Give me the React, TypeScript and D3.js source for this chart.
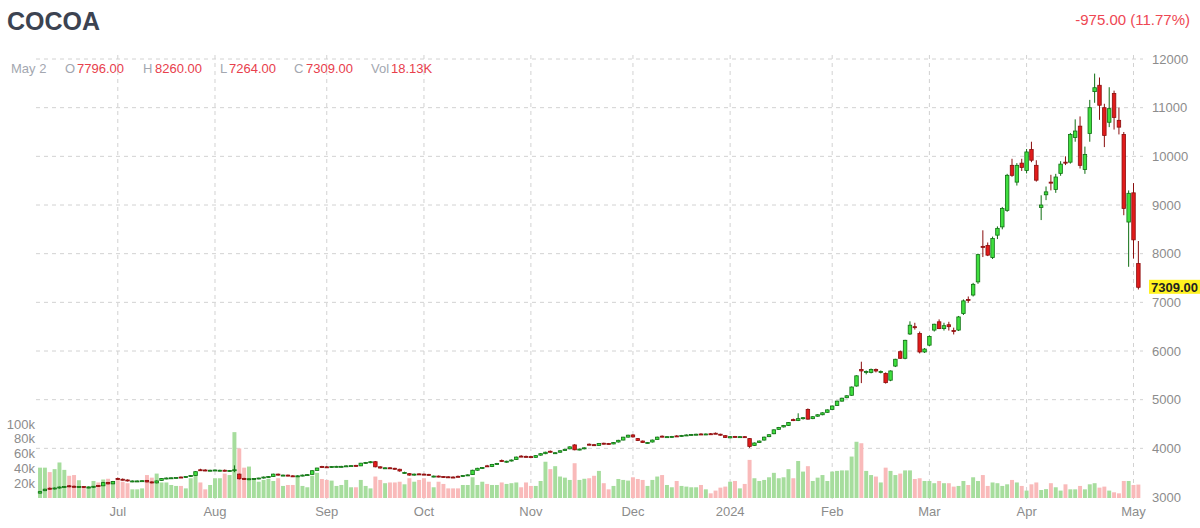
import { useEffect, useRef } from "react";
import * as d3 from "d3";

// open, high, low, close — one entry per trading day, mid-June 2023 to May 2 2024
type Candle = [number, number, number, number];

const candles: Candle[] = [
  // Jun
  [3080, 3125, 3070, 3110], [3130, 3170, 3120, 3160], [3180, 3195, 3150, 3165], [3165, 3195, 3155, 3185],
  [3185, 3215, 3175, 3205], [3200, 3225, 3190, 3215], [3230, 3245, 3200, 3215], [3220, 3235, 3195, 3205],
  [3200, 3225, 3190, 3215], [3215, 3225, 3190, 3200], [3195, 3215, 3180, 3205], [3200, 3225, 3190, 3220],
  [3235, 3245, 3210, 3220], [3230, 3310, 3225, 3295], [3300, 3310, 3260, 3270], [3270, 3330, 3265, 3320],
  // Jul
  [3380, 3400, 3350, 3360], [3365, 3380, 3340, 3350], [3350, 3360, 3320, 3330], [3320, 3340, 3305, 3330],
  [3320, 3340, 3310, 3330], [3320, 3345, 3310, 3335], [3340, 3350, 3300, 3310], [3310, 3320, 3280, 3290],
  [3290, 3340, 3280, 3330], [3340, 3390, 3335, 3380], [3375, 3400, 3365, 3390], [3385, 3400, 3370, 3395],
  [3390, 3410, 3380, 3400], [3410, 3420, 3390, 3400], [3400, 3430, 3395, 3420], [3420, 3450, 3410, 3440],
  [3440, 3530, 3435, 3520], [3560, 3580, 3540, 3550], [3555, 3570, 3530, 3545], [3540, 3560, 3530, 3550],
  // Aug
  [3545, 3565, 3535, 3555], [3545, 3560, 3530, 3550], [3550, 3565, 3525, 3540], [3535, 3555, 3520, 3545],
  [3540, 3650, 3510, 3560], [3470, 3480, 3360, 3375], [3380, 3395, 3350, 3370], [3360, 3385, 3345, 3375],
  [3370, 3390, 3355, 3380], [3375, 3395, 3365, 3390], [3390, 3420, 3380, 3410], [3410, 3430, 3400, 3420],
  [3420, 3480, 3415, 3470], [3470, 3480, 3440, 3450], [3440, 3460, 3430, 3450], [3450, 3460, 3425, 3435],
  [3435, 3445, 3410, 3420], [3420, 3445, 3410, 3435], [3435, 3460, 3425, 3450], [3450, 3470, 3440, 3460],
  [3465, 3550, 3460, 3540], [3545, 3600, 3540, 3595], [3625, 3640, 3600, 3615],
  // Sep
  [3620, 3635, 3600, 3610], [3610, 3635, 3600, 3625], [3620, 3640, 3610, 3630], [3625, 3640, 3610, 3630],
  [3630, 3650, 3620, 3640], [3635, 3650, 3625, 3645], [3650, 3660, 3625, 3635], [3640, 3700, 3635, 3695],
  [3695, 3720, 3685, 3710], [3705, 3735, 3695, 3725], [3725, 3740, 3610, 3620], [3620, 3630, 3585, 3595],
  [3590, 3610, 3575, 3600], [3600, 3610, 3580, 3590], [3590, 3600, 3560, 3570], [3570, 3580, 3520, 3535],
  [3500, 3520, 3480, 3505], [3480, 3490, 3440, 3450], [3450, 3480, 3440, 3470], [3475, 3485, 3455, 3465],
  // Oct
  [3470, 3480, 3450, 3460], [3465, 3475, 3440, 3450], [3420, 3440, 3405, 3430], [3430, 3440, 3405, 3415],
  [3420, 3430, 3400, 3410], [3415, 3425, 3395, 3405], [3410, 3425, 3395, 3405], [3425, 3440, 3410, 3420],
  [3420, 3450, 3410, 3440], [3440, 3465, 3430, 3455], [3460, 3560, 3455, 3550], [3550, 3600, 3540, 3590],
  [3590, 3615, 3575, 3605], [3640, 3660, 3620, 3630], [3625, 3680, 3615, 3670], [3670, 3700, 3660, 3690],
  [3750, 3770, 3720, 3735], [3720, 3745, 3705, 3735], [3740, 3770, 3730, 3760], [3770, 3830, 3760, 3820],
  [3840, 3860, 3820, 3830], [3835, 3850, 3815, 3825],
  // Nov
  [3830, 3840, 3805, 3815], [3815, 3860, 3810, 3850], [3860, 3900, 3850, 3890], [3890, 3930, 3880, 3920],
  [3940, 3955, 3910, 3925], [3900, 3920, 3885, 3910], [3920, 3960, 3910, 3950], [3955, 3990, 3945, 3980],
  [3990, 4040, 3980, 4030], [4070, 4085, 3960, 3970], [3970, 3995, 3960, 3985], [3990, 4020, 3980, 4010],
  [4085, 4100, 4060, 4070], [4075, 4090, 4050, 4065], [4060, 4110, 4055, 4100], [4105, 4115, 4080, 4090],
  [4100, 4110, 4080, 4090], [4090, 4130, 4085, 4120], [4130, 4175, 4120, 4165], [4170, 4235, 4165, 4230],
  [4230, 4280, 4220, 4270],
  // Dec
  [4275, 4290, 4220, 4235], [4200, 4210, 4150, 4160], [4150, 4160, 4110, 4120], [4110, 4130, 4100, 4120],
  [4130, 4180, 4120, 4170], [4180, 4240, 4175, 4230], [4250, 4265, 4225, 4235], [4230, 4250, 4220, 4240],
  [4235, 4255, 4225, 4245], [4255, 4270, 4235, 4245], [4245, 4275, 4240, 4265], [4265, 4285, 4255, 4275],
  [4275, 4295, 4265, 4285], [4280, 4300, 4270, 4290], [4295, 4310, 4275, 4285], [4285, 4305, 4275, 4295],
  [4300, 4315, 4285, 4295], [4310, 4325, 4295, 4300], [4290, 4300, 4260, 4270], [4260, 4270, 4215, 4225],
  // Jan
  [4215, 4250, 4205, 4240], [4245, 4255, 4225, 4235], [4230, 4250, 4220, 4240], [4240, 4250, 4215, 4225],
  [4200, 4210, 4010, 4040], [4060, 4120, 4050, 4110], [4120, 4160, 4110, 4150], [4170, 4240, 4160, 4230],
  [4240, 4290, 4230, 4280], [4300, 4390, 4290, 4380], [4390, 4440, 4380, 4430], [4440, 4480, 4430, 4470],
  [4470, 4540, 4460, 4530], [4590, 4610, 4560, 4570], [4570, 4720, 4560, 4610], [4610, 4640, 4590, 4630],
  [4800, 4820, 4590, 4600], [4610, 4660, 4600, 4650], [4660, 4700, 4650, 4690], [4690, 4740, 4680, 4730],
  [4740, 4800, 4730, 4790],
  // Feb
  [4800, 4880, 4790, 4870], [4880, 4980, 4870, 4970], [4970, 5040, 4960, 5030], [5040, 5090, 5030, 5080],
  [5090, 5270, 5080, 5260], [5280, 5500, 5270, 5490], [5620, 5780, 5340, 5590], [5560, 5600, 5520, 5580],
  [5560, 5640, 5540, 5620], [5620, 5640, 5560, 5590], [5570, 5600, 5540, 5580], [5540, 5560, 5330, 5350],
  [5400, 5600, 5380, 5590], [5690, 5840, 5670, 5830], [5985, 6010, 5840, 5850], [5850, 6230, 5830, 6220],
  [6350, 6610, 6330, 6530], [6500, 6580, 6440, 6480], [6360, 6400, 5950, 5980], [5980, 6060, 5960, 6040],
  // Mar
  [6120, 6320, 6100, 6300], [6430, 6560, 6400, 6550], [6600, 6650, 6450, 6460], [6460, 6580, 6420, 6520],
  [6540, 6600, 6420, 6500], [6420, 6480, 6340, 6410], [6430, 6720, 6410, 6700], [6770, 7060, 6740, 7030],
  [7060, 7120, 6990, 7040], [7150, 7400, 7120, 7370], [7420, 8000, 7380, 7980], [8150, 8480, 7930, 8130],
  [8170, 8230, 7950, 7970], [7920, 8350, 7890, 8310], [8380, 8560, 8300, 8520], [8550, 8960, 8500, 8930],
  [8890, 9640, 8860, 9610], [9815, 9950, 9580, 9610], [9470, 9860, 9400, 9815], [9860, 9950, 9700, 9770],
  // Apr
  [9710, 10150, 9650, 10090], [10140, 10300, 9880, 9920], [9815, 9920, 9480, 9510], [8950, 9200, 8690, 9000],
  [9210, 9380, 9100, 9270], [9470, 9620, 9300, 9450], [9320, 9640, 9250, 9575], [9650, 9900, 9600, 9840],
  [9880, 10000, 9820, 9860], [9880, 10480, 9850, 10450], [10385, 10760, 10300, 10520], [10620, 10820, 9750, 9815],
  [9730, 10200, 9640, 10040], [10470, 11160, 10300, 11000], [11330, 11700, 11100, 11410], [11460, 11620, 10750, 11050],
  [11000, 11080, 10190, 10430], [10700, 11420, 10600, 10980], [11290, 11350, 10550, 10800], [10740, 11000, 10450, 10600],
  [10450, 10500, 8790, 8930], [8650, 9300, 7730, 9240],
  // May
  [9250, 9450, 7900, 8284], [7796, 8260, 7264, 7309],
];

// daily volume, thousands of contracts
const volumes: number[] = [
  41, 41, 35, 39, 48, 38, 30, 31, 24, 14.5, 16, 23, 21, 25, 26, 22,
  27, 22, 20, 11.7, 11.7, 13, 31, 27.5, 33, 21, 21, 17.6, 16.3, 16.3, 13, 26.7, 35.7, 21, 11.7, 17.6,
  26.7, 26.7, 33, 31, 89, 67, 41, 42.5, 26.7, 22, 24.4, 26, 23, 26.7, 16.3, 17.6, 17.6, 30, 16.3, 14.5, 30, 34, 25.7,
  24.4, 23.5, 16.3, 17.6, 24.4, 14.5, 14.5, 24.4, 16.3, 13, 29, 24.4, 20, 21, 21, 22, 18.5, 26.7, 22, 24.4,
  26.7, 22, 14.5, 22, 19, 13, 13, 13, 17.6, 17.6, 28, 17.6, 22, 19, 17.6, 17.6, 21, 19, 20, 21, 14.5, 21,
  16.3, 16.3, 23, 49, 39, 43, 29, 27.5, 24.4, 47, 24.4, 26, 26.7, 30, 36.6, 20, 11.7, 16.3, 25.7, 24.4, 23.5,
  28, 25.7, 24.4, 16.3, 24.4, 29, 31, 17.6, 14.5, 23, 16.3, 15.4, 14.5, 14.5, 17.6, 11.7, 6.3, 10, 14, 15.4,
  22, 23, 13, 19, 51.5, 26.7, 23, 24.4, 28, 34, 26.7, 28, 39, 26.7, 50, 35.7, 43, 23, 27.5, 31, 23,
  35.7, 36.6, 37.3, 37.3, 56, 76, 74, 36.6, 31, 29, 21, 41, 36.6, 31, 33, 37.3, 37.3, 25.7, 26.7, 23,
  23, 20, 23, 20, 20, 15.4, 16.3, 23, 17.6, 28, 23, 31, 16.3, 21, 20, 16.3, 18.5, 24.4, 21, 16.3,
  10, 18.5, 21, 10.8, 12, 20, 14.5, 10, 18.5, 11.7, 11.7, 16.3, 11.7, 18.5, 20, 14, 15.4, 10, 7.7, 6.3, 23, 23,
  17.6, 18.13,
];

const monthTicks = [
  { label: "Jul", index: 16 },
  { label: "Aug", index: 36 },
  { label: "Sep", index: 59 },
  { label: "Oct", index: 79 },
  { label: "Nov", index: 101 },
  { label: "Dec", index: 122 },
  { label: "2024", index: 142 },
  { label: "Feb", index: 163 },
  { label: "Mar", index: 183 },
  { label: "Apr", index: 203 },
  { label: "May", index: 225 },
];

const priceTicks = [3000, 4000, 5000, 6000, 7000, 8000, 9000, 10000, 11000, 12000];
const priceGrid = [4000, 5000, 6000, 7000, 8000, 9000, 10000, 11000, 12000];
const volumeTicks = [20, 40, 60, 80, 100];

const legendItems = [
  { key: "O", value: "7796.00", x: 65 },
  { key: "H", value: "8260.00", x: 143 },
  { key: "L", value: "7264.00", x: 220 },
  { key: "C", value: "7309.00", x: 294 },
  { key: "Vol", value: "18.13K", x: 371 },
];

const FONT = "'Liberation Sans', Arial, Helvetica, sans-serif";
const UP_FILL = "#3fdf3f";
const UP_LINE = "#0f6e12";
const DOWN_FILL = "#e11b1b";
const DOWN_LINE = "#8a0e0e";
const VOL_UP = "#a6dd9d";
const VOL_DOWN = "#f9baba";
const GRID = "#d2d2d2";
const AXIS_TEXT = "#8c8c8c";

export default function App() {
  const svgRef = useRef<SVGSVGElement>(null);

  useEffect(() => {
    if (!svgRef.current) return;
    document.body.style.margin = "0";

    const svg = d3.select(svgRef.current);
    svg.selectAll("*").remove();

    const x = d3.scaleBand<number>()
      .domain(d3.range(candles.length))
      .range([37.6, 1140.8])
      .padding(0);
    const step = x.step();
    const cx = (i: number) => (x(i) ?? 0) + step / 2;

    const y = d3.scaleLinear().domain([3000, 12000]).range([497, 59]);
    const v = d3.scaleLinear().domain([0, 100]).range([498, 424]);

    // header
    svg.append("text")
      .attr("x", 7).attr("y", 30)
      .attr("font-family", FONT).attr("font-size", 25).attr("font-weight", 700)
      .attr("fill", "#3c4351")
      .text("COCOA");

    svg.append("text")
      .attr("x", 1190).attr("y", 25)
      .attr("text-anchor", "end")
      .attr("font-family", FONT).attr("font-size", 15)
      .attr("fill", "#ee4753")
      .text("-975.00 (11.77%)");

    // grid
    svg.append("g").selectAll("line")
      .data(priceGrid).enter().append("line")
      .attr("x1", 36).attr("x2", 1143)
      .attr("y1", d => y(d)).attr("y2", d => y(d))
      .attr("stroke", GRID).attr("stroke-width", 1).attr("stroke-dasharray", "4,4");

    svg.append("g").selectAll("line")
      .data(monthTicks).enter().append("line")
      .attr("x1", d => cx(d.index)).attr("x2", d => cx(d.index))
      .attr("y1", 55).attr("y2", 500)
      .attr("stroke", GRID).attr("stroke-width", 1).attr("stroke-dasharray", "4,4");

    // volume
    const volW = step - 0.9;
    svg.append("g").selectAll("rect")
      .data(volumes).enter().append("rect")
      .attr("x", (_, i) => cx(i) - volW / 2)
      .attr("y", d => v(d))
      .attr("width", volW)
      .attr("height", d => v(0) - v(d))
      .attr("fill", (_, i) => (candles[i][3] >= candles[i][0] ? VOL_UP : VOL_DOWN));

    // candles
    const bodyW = step * 0.72;
    const cg = svg.append("g").selectAll("g")
      .data(candles).enter().append("g");

    cg.append("line")
      .attr("x1", (_, i) => cx(i)).attr("x2", (_, i) => cx(i))
      .attr("y1", d => y(d[1])).attr("y2", d => y(d[2]))
      .attr("stroke", d => (d[3] >= d[0] ? UP_LINE : DOWN_LINE))
      .attr("stroke-width", 1);

    cg.append("rect")
      .attr("x", (_, i) => cx(i) - bodyW / 2)
      .attr("y", d => y(Math.max(d[0], d[3])))
      .attr("width", bodyW)
      .attr("height", d => Math.max(1, Math.abs(y(d[0]) - y(d[3]))))
      .attr("fill", d => (d[3] >= d[0] ? UP_FILL : DOWN_FILL))
      .attr("stroke", d => (d[3] >= d[0] ? UP_LINE : DOWN_LINE))
      .attr("stroke-width", 0.8);

    // price axis (right)
    svg.append("g")
      .attr("transform", "translate(1152,0)")
      .call(d3.axisRight(y).tickValues(priceTicks).tickSize(0).tickPadding(0).tickFormat(d => `${d}`))
      .call(g => g.select(".domain").remove())
      .call(g => g.selectAll(".tick text")
        .attr("fill", AXIS_TEXT).attr("font-size", 13).attr("font-family", FONT));

    // volume axis (left)
    svg.append("g")
      .attr("transform", "translate(35,0)")
      .call(d3.axisLeft(v).tickValues(volumeTicks).tickSize(0).tickPadding(0).tickFormat(d => `${d}k`))
      .call(g => g.select(".domain").remove())
      .call(g => g.selectAll(".tick text")
        .attr("fill", AXIS_TEXT).attr("font-size", 13).attr("font-family", FONT));

    // date axis
    const labelByIndex = new Map(monthTicks.map(m => [m.index, m.label]));
    svg.append("g")
      .attr("transform", "translate(0,504)")
      .call(d3.axisBottom(x).tickValues(monthTicks.map(m => m.index)).tickSize(0).tickPadding(3)
        .tickFormat(d => labelByIndex.get(d as number) ?? ""))
      .call(g => g.select(".domain").remove())
      .call(g => g.selectAll(".tick text")
        .attr("fill", AXIS_TEXT).attr("font-size", 13).attr("font-family", FONT));

    // last price tag
    const last = candles[candles.length - 1][3];
    svg.append("rect")
      .attr("x", 1149).attr("y", y(last) - 7.5)
      .attr("width", 51).attr("height", 14)
      .attr("fill", "#fff21f");
    svg.append("text")
      .attr("x", 1151).attr("y", y(last))
      .attr("dy", "0.35em")
      .attr("font-family", FONT).attr("font-size", 13).attr("font-weight", 700)
      .attr("fill", "#222")
      .text(last.toFixed(2));

    // OHLC legend
    const legend = svg.append("g").attr("font-family", FONT).attr("font-size", 13);
    legend.append("text")
      .attr("x", 11).attr("y", 73)
      .attr("fill", "#a3a7b0")
      .text("May 2");
    const items = legend.selectAll("g.item")
      .data(legendItems).enter().append("g").attr("class", "item");
    items.append("text")
      .attr("x", d => d.x).attr("y", 73)
      .attr("fill", "#a3a7b0")
      .text(d => d.key);
    items.append("text")
      .attr("x", d => d.x + (d.key === "Vol" ? 20 : d.key === "L" ? 9 : 12)).attr("y", 73)
      .attr("fill", "#e8404c")
      .text(d => d.value);
  }, []);

  return <svg ref={svgRef} width={1200} height={528} style={{ display: "block", background: "#fff" }} />;
}
